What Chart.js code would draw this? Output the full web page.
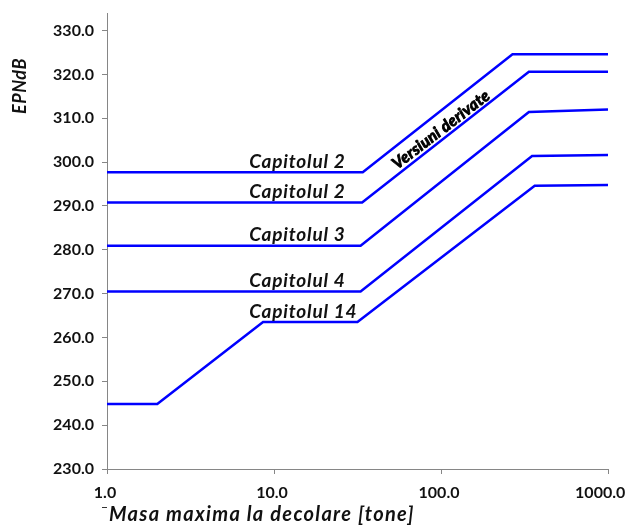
<!DOCTYPE html>
<html lang="ro">
<head>
    <meta charset="UTF-8">
    <title>EPNdB vs masa maxima la decolare</title>
    <script src="https://cdn.jsdelivr.net/npm/chart.js"></script>
    <style>
        html, body {
            margin: 0;
            padding: 0;
            background: #ffffff;
        }
        #wrap {
            width: 630px;
            height: 526px;
        }
    </style>
</head>
<body>
    <div id="wrap"><canvas id="noiseChart"></canvas></div>

    <script>
        // masa maxima la decolare [tone] / nivel EPNdB, one pair per curve
        const massCap2a = [1, 34, 268, 1000];
        const epnCap2a = [297.7, 297.7, 324.6, 324.6];

        const massCap2b = [1, 33.7, 336, 1000];
        const epnCap2b = [290.8, 290.8, 320.6, 320.6];

        const massCap3 = [1, 33, 336, 1000];
        const epnCap3 = [280.9, 280.9, 311.4, 312.0];

        const massCap4 = [1, 33, 351, 1000];
        const epnCap4 = [270.5, 270.5, 301.4, 301.6];

        const massCap14 = [1, 2.0, 8.6, 31.6, 364, 1000];
        const epnCap14 = [244.8, 244.8, 263.5, 263.5, 294.6, 294.8];

        const curveNames = ['Capitolul 2', 'Capitolul 2', 'Capitolul 3', 'Capitolul 4', 'Capitolul 14'];
        const derivedLabel = 'Versiuni derivate';

        const xTickValues = [1, 10, 100, 1000];
        const yTickValues = [230, 240, 250, 260, 270, 280, 290, 300, 310, 320, 330];

        const xTitle = 'Masa maxima la decolare [tone]';
        const yTitle = 'EPNdB';

        const curves = [
            [massCap2a, epnCap2a],
            [massCap2b, epnCap2b],
            [massCap3, epnCap3],
            [massCap4, epnCap4],
            [massCap14, epnCap14]
        ];

        const axisGrey = '#868686';
        const textColor = '#111111';

        const datasets = curves.map(([xs, ys], i) => ({
            label: curveNames[i],
            data: xs.map((x, k) => ({ x: x, y: ys[k] })),
            borderColor: '#0000ff',
            borderWidth: 2.5,
            pointRadius: 0,
            tension: 0,
            fill: false
        }));

        // curve labels, titles and the rotated note are drawn by hand
        const annotations = {
            id: 'annotations',
            afterDatasetsDraw(chart) {
                const ctx = chart.ctx;
                const xs = chart.scales.x;
                const ys = chart.scales.y;
                ctx.save();
                ctx.fillStyle = textColor;

                // curve names sit just above their flat part
                ctx.font = 'italic bold 19px Lato';
                ctx.letterSpacing = '0.8px';
                ctx.textAlign = 'left';
                ctx.textBaseline = 'alphabetic';
                const labelX = xs.getPixelForValue(7.1);
                curves.forEach(([xsVals, ysVals], i) => {
                    const flatY = i === 4 ? ysVals[2] : ysVals[0];
                    ctx.fillText(curveNames[i], labelX, ys.getPixelForValue(flatY) - 4.5);
                });

                // rotated note along the upper slope
                ctx.save();
                ctx.translate(xs.getPixelForValue(100), ys.getPixelForValue(307.4));
                ctx.rotate(-37.5 * Math.PI / 180);
                ctx.font = 'italic bold 16px Lato';
                ctx.letterSpacing = '0.3px';
                ctx.textAlign = 'center';
                ctx.textBaseline = 'middle';
                ctx.lineWidth = 0.9;
                ctx.strokeStyle = '#000000';
                ctx.strokeText(derivedLabel, 0, 0);
                ctx.fillStyle = '#000000';
                ctx.fillText(derivedLabel, 0, 0);
                ctx.restore();

                // y title
                ctx.save();
                ctx.translate(20, 86);
                ctx.rotate(-Math.PI / 2);
                ctx.font = 'italic bold 18px Lato';
                ctx.letterSpacing = '0.5px';
                ctx.textAlign = 'center';
                ctx.textBaseline = 'middle';
                ctx.fillText(yTitle, 0, 0);
                ctx.restore();

                // x title
                ctx.font = 'italic bold 20px Lato';
                ctx.letterSpacing = '1.3px';
                ctx.textAlign = 'left';
                ctx.textBaseline = 'alphabetic';
                ctx.fillText(xTitle, 109, 521);
                ctx.letterSpacing = '0px';

                // stray little dash in front of the x title
                ctx.strokeStyle = '#333333';
                ctx.lineWidth = 1;
                ctx.beginPath();
                ctx.moveTo(102, 507.5);
                ctx.lineTo(107, 507.5);
                ctx.stroke();

                ctx.restore();
            }
        };

        new Chart(document.getElementById('noiseChart'), {
            type: 'line',
            data: { datasets: datasets },
            options: {
                responsive: true,
                maintainAspectRatio: false,
                animation: false,
                layout: {
                    padding: { left: 0, top: 13, right: 22, bottom: 0 }
                },
                plugins: {
                    legend: { display: false },
                    tooltip: { enabled: false }
                },
                scales: {
                    x: {
                        type: 'logarithmic',
                        min: 1,
                        max: 1000,
                        afterBuildTicks: (scale) => {
                            scale.ticks = xTickValues.map(v => ({ value: v }));
                        },
                        afterFit: (scale) => {
                            scale.height = 57;
                            scale.paddingLeft = 0;
                            scale.paddingRight = 0;
                        },
                        grid: {
                            drawOnChartArea: false,
                            drawTicks: true,
                            tickLength: 5,
                            color: axisGrey
                        },
                        border: { display: true, color: axisGrey, width: 1 },
                        ticks: {
                            color: textColor,
                            padding: 9,
                            labelOffset: -2,
                            maxRotation: 0,
                            autoSkip: false,
                            font: { family: 'Lato', size: 16, weight: 'bold' },
                            // last label is nudged left so it stays inside the picture
                            callback: (v, i, ticks) => Number(v).toFixed(1) + (i === ticks.length - 1 ? '   ' : '')
                        }
                    },
                    y: {
                        type: 'linear',
                        min: 230,
                        max: 334,
                        afterBuildTicks: (scale) => {
                            scale.ticks = yTickValues.map(v => ({ value: v }));
                        },
                        afterFit: (scale) => {
                            scale.width = 107;
                            scale.paddingTop = 0;
                            scale.paddingBottom = 0;
                        },
                        grid: {
                            drawOnChartArea: false,
                            drawTicks: true,
                            tickLength: 5,
                            color: axisGrey
                        },
                        border: { display: true, color: axisGrey, width: 1 },
                        ticks: {
                            color: textColor,
                            padding: 8,
                            autoSkip: false,
                            font: { family: 'Lato', size: 16, weight: 'bold' },
                            callback: (v) => Number(v).toFixed(1)
                        }
                    }
                }
            },
            plugins: [annotations]
        });
    </script>
</body>
</html>
